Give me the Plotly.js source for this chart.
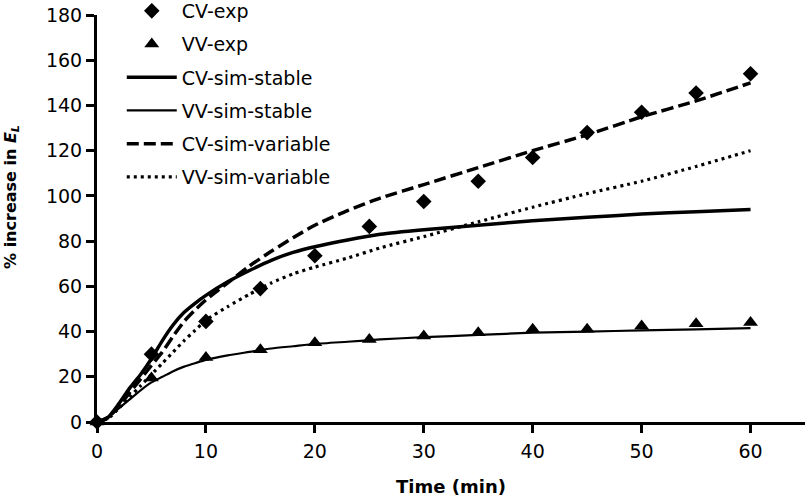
<!DOCTYPE html>
<html>
<head>
<meta charset="utf-8">
<script src="https://cdn.plot.ly/plotly-3.0.1.min.js"></script>
<style>html,body{margin:0;padding:0;background:#fff;}#chart{width:809px;height:497px;}</style>
</head>
<body>
<div id="chart"></div>
<script>
// Experimental data
const expTime = [0, 5, 10, 15, 20, 25, 30, 35, 40, 45, 50, 55, 60];
const cvExp = [0, 30, 44.5, 59, 73.5, 86.5, 97.5, 106.5, 117, 128, 137, 145.5, 154];
const vvExp = [0, 19.5, 28.5, 32, 35, 36.5, 38, 39.5, 41, 41, 42.5, 43.5, 44];

// Simulated curves
const simTime = [0, 1, 2, 3, 4, 5, 6, 7, 8, 9, 10, 12, 14, 16, 18, 20, 23, 26, 30, 35, 40, 45, 50, 55, 60];
const cvSimStable = [0, 2, 8, 15, 21, 28, 36, 43, 48.5, 52.5, 56, 62, 67, 71.5, 75, 77.5, 80.5, 83, 85, 87, 89, 90.5, 92, 93, 94];
const vvSimStable = [0, 2, 6, 10, 14, 17.5, 20, 22.5, 24.5, 26, 27.5, 29.5, 31, 32.5, 33.5, 34.5, 35.5, 36.5, 37.5, 38.5, 39.5, 40, 40.5, 41, 41.5];
const cvSimVariable = [0, 2, 7, 13, 19, 25, 31, 38, 44.5, 49.5, 54, 61.5, 69, 75.5, 81.5, 87, 93.5, 99, 105, 112.5, 120, 127, 135, 142, 150];
const vvSimVariable = [0, 1.5, 6, 11, 16, 21, 26, 31, 36, 40.5, 45, 51, 56.5, 61.5, 65.5, 68.5, 72.5, 77, 82, 88.5, 95, 101, 106.5, 113, 120];

const seriesNames = ["CV-exp", "VV-exp", "CV-sim-stable", "VV-sim-stable", "CV-sim-variable", "VV-sim-variable"];
const xTitle = "Time (min)";
const yTitle = "% increase in <i>E<sub>L</sub></i>";

const FONT = "'DejaVu Sans', sans-serif";

const traces = [
  {x: expTime, y: cvExp, name: seriesNames[0], mode: "markers", legendgroup: "g1",
   marker: {symbol: "diamond", size: 12, color: "#000"}, cliponaxis: false},
  {x: expTime, y: vvExp, name: seriesNames[1], mode: "markers", legendgroup: "g2",
   marker: {symbol: "triangle-up", size: 13, color: "#000"}, cliponaxis: false},
  {x: simTime, y: cvSimStable, name: seriesNames[2], mode: "lines", legendgroup: "g3",
   line: {color: "#000", width: 3.5, shape: "spline", smoothing: 0.6}},
  {x: simTime, y: vvSimStable, name: seriesNames[3], mode: "lines", legendgroup: "g4",
   line: {color: "#000", width: 2.2, shape: "spline", smoothing: 0.6}},
  {x: simTime, y: cvSimVariable, name: seriesNames[4], mode: "lines", legendgroup: "g5",
   line: {color: "#000", width: 3.5, dash: "12px,5px", shape: "spline", smoothing: 0.6}},
  {x: simTime, y: vvSimVariable, name: seriesNames[5], mode: "lines", legendgroup: "g6",
   line: {color: "#000", width: 3.2, dash: "3px,4px", shape: "spline", smoothing: 0.6}}
];

const layout = {
  width: 809, height: 497,
  margin: {l: 97, r: 4, t: 15, b: 75, autoexpand: false},
  paper_bgcolor: "#fff", plot_bgcolor: "#fff",
  font: {family: FONT, size: 19, color: "#000"},
  showlegend: true,
  legend: {x: 0.035, y: 1.0565, xanchor: "left", yanchor: "top", bgcolor: "rgba(0,0,0,0)",
           font: {family: FONT, size: 19, color: "#000"}, traceorder: "grouped",
           tracegroupgap: 5.5, itemwidth: 50},
  xaxis: {range: [0, 65], dtick: 10, tick0: 0, showgrid: false, zeroline: false,
          showline: true, linecolor: "#000", linewidth: 3, ticks: "outside", ticklen: 8,
          tickwidth: 3, tickcolor: "#000", tickfont: {family: FONT, size: 19}, ticklabelstandoff: 2,
          automargin: false,
          title: {text: "<b>" + xTitle + "</b>", font: {family: FONT, size: 18}, standoff: 20}},
  yaxis: {range: [0, 180], dtick: 20, tick0: 0, showgrid: false, zeroline: false,
          showline: true, linecolor: "#000", linewidth: 3, ticks: "outside", ticklen: 8,
          tickwidth: 3, tickcolor: "#000", tickfont: {family: FONT, size: 19}, automargin: false},
  annotations: [
    {text: "<b>" + yTitle + "</b>", textangle: -90, xref: "paper", yref: "paper",
     x: -0.12, y: 0.553, xanchor: "center", yanchor: "middle", showarrow: false,
     font: {family: FONT, size: 16, color: "#000"}}
  ]
};

Plotly.newPlot("chart", traces, layout, {displayModeBar: false, staticPlot: true});
</script>
</body>
</html>
